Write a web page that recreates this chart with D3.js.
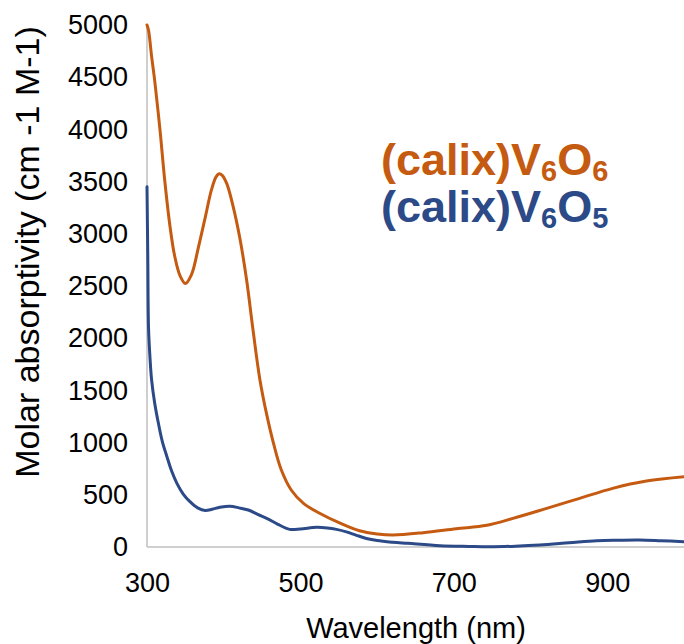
<!DOCTYPE html>
<html>
<head>
<meta charset="utf-8">
<script src="https://cdn.jsdelivr.net/npm/d3@7"></script>
<style>
  html, body { margin: 0; padding: 0; background: #fff; }
  svg { display: block; font-family: "Liberation Sans", Arial, sans-serif; }
</style>
</head>
<body>
<svg id="chart" width="684" height="644"></svg>
<script>
// Wavelength (nm) / molar absorptivity values
const v6o6Wavelength = [300,302,306,310,317,323,330,336,343,350,358,367,376,384,390,394,398,404,412,421,430,438,447,456,465,475,488,504,525,551,577,600,621,660,703,743,777,821,864,907,951,1000];
const v6o6Absorb     = [5000,4950,4700,4470,3990,3520,3070,2790,2600,2525,2610,2870,3160,3420,3545,3575,3560,3480,3270,2960,2550,2090,1610,1270,990,740,546,418,323,230,155,125,115,137,175,208,274,370,466,562,632,673];

const v6o5Wavelength = [300,301,302,304,306,310,315,320,326,332,339,347,356,366,376,385,395,408,420,432,445,456,470,486,500,521,535,547,560,573,586,600,620,640,682,720,747,780,812,850,886,915,942,970,1000];
const v6o5Absorb     = [3450,2800,2100,1800,1600,1380,1180,1010,865,730,610,510,434,375,350,362,380,390,375,354,310,275,220,169,172,189,183,169,145,112,82,62,46,35,12,5,2,8,19,40,60,65,67,60,51];

const xTicks = [300, 500, 700, 900];
const yTicks = [0,500,1000,1500,2000,2500,3000,3500,4000,4500,5000];

const seriesNames = ["(calix)V6O6", "(calix)V6O5"];
const colors = ["#C55A11", "#2B4A87"];

(function () {
const svg = d3.select("#chart");
const mLeft = 147, mRight = 684, mTop = 25, mBottom = 547;

const x = d3.scaleLinear().domain([300, 1000]).range([mLeft, mRight]);
const y = d3.scaleLinear().domain([0, 5000]).range([mBottom, mTop]);

// axes lines (light gray)
svg.append("line").attr("x1", mLeft).attr("x2", mLeft).attr("y1", mTop).attr("y2", mBottom)
  .attr("stroke", "#BFBFBF").attr("stroke-width", 1.5);
svg.append("line").attr("x1", mLeft).attr("x2", mRight).attr("y1", mBottom).attr("y2", mBottom)
  .attr("stroke", "#BFBFBF").attr("stroke-width", 1.5);

// y tick labels
const yAxis = d3.axisLeft(y).tickValues(yTicks).tickSize(0).tickPadding(19).tickFormat(d3.format("d"));
const gy = svg.append("g").attr("transform", `translate(${mLeft},0)`).call(yAxis);
gy.select(".domain").remove();
gy.selectAll("text").attr("font-size", 27).attr("fill", "#000")
  .attr("font-family", "Liberation Sans, Arial, sans-serif");

// x tick labels
const xAxis = d3.axisBottom(x).tickValues(xTicks).tickSize(0).tickPadding(26).tickFormat(d3.format("d"));
const gx = svg.append("g").attr("transform", `translate(0,${mBottom})`).call(xAxis);
gx.select(".domain").remove();
gx.selectAll("text").attr("font-size", 27).attr("fill", "#000")
  .attr("font-family", "Liberation Sans, Arial, sans-serif");

// axis titles
svg.append("text").attr("x", 416).attr("y", 638).attr("text-anchor", "middle")
  .attr("font-size", 29).attr("fill", "#000").text("Wavelength (nm)");
svg.append("text").attr("transform", "translate(39,252) rotate(-90)").attr("text-anchor", "middle")
  .attr("font-size", 34).attr("fill", "#000").text("Molar absorptivity (cm -1 M-1)");

// lines
const line = d3.line().x(d => x(d[0])).y(d => y(d[1])).curve(d3.curveCatmullRom.alpha(0.5));
const series = [
  d3.zip(v6o6Wavelength, v6o6Absorb),
  d3.zip(v6o5Wavelength, v6o5Absorb)
];
[1, 0].forEach(i => {
  svg.append("path").datum(series[i]).attr("d", line)
    .attr("fill", "none").attr("stroke", colors[i]).attr("stroke-width", 3)
    .attr("stroke-linejoin", "round").attr("stroke-linecap", "round");
});

// legend labels with subscripts
const legendY = [175, 222];
const subs = [["6", "6"], ["6", "5"]];
[0, 1].forEach(i => {
  const t = svg.append("text").attr("x", 381).attr("y", legendY[i])
    .attr("font-size", 45).attr("font-weight", "bold").attr("fill", colors[i]);
  t.append("tspan").text("(calix)V");
  t.append("tspan").attr("font-size", 29).attr("dy", 6).text(subs[i][0]);
  t.append("tspan").attr("dy", -6).text("O");
  t.append("tspan").attr("font-size", 29).attr("dy", 6).text(subs[i][1]);
});
})();
</script>
</body>
</html>
